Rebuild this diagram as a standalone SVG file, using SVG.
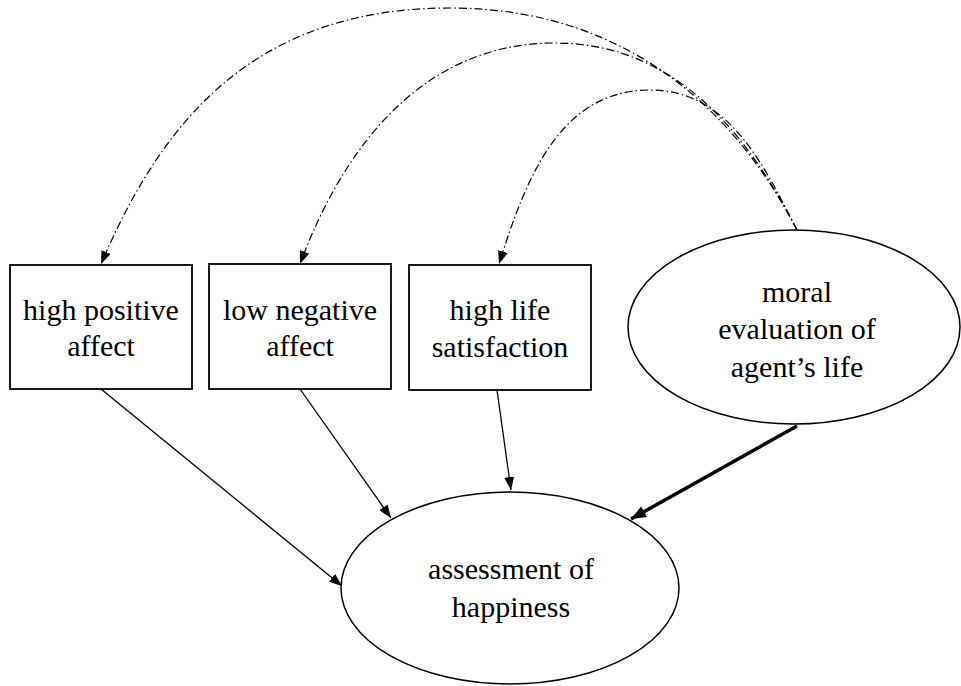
<svg xmlns="http://www.w3.org/2000/svg" width="961" height="686" viewBox="0 0 961 686">
<style>
.box{fill:#fff;stroke:#000;stroke-width:1.8}
.ell{fill:#fff;stroke:#000;stroke-width:1.5}
.lbl{font-family:"Liberation Serif","Times New Roman",serif;font-size:30px;fill:#000;text-anchor:middle}
.arr{fill:none;stroke:#000;stroke-width:1.3;marker-end:url(#ah)}
.thick{fill:none;stroke:#000;stroke-width:3.5;marker-end:url(#ahb)}
.dd{fill:none;stroke:#000;stroke-width:1.2;stroke-dasharray:8 3 1.5 3;marker-end:url(#ah)}
</style>
<defs>
<marker id="ah" markerUnits="userSpaceOnUse" markerWidth="14" markerHeight="10" refX="13" refY="5" orient="auto">
<path d="M0,0 L13,5 L0,10 Z" fill="#000"/>
</marker>
<marker id="ahb" markerUnits="userSpaceOnUse" markerWidth="16" markerHeight="12" refX="15" refY="6" orient="auto">
<path d="M0,0 L15,6 L0,12 Z" fill="#000"/>
</marker>
</defs>
<g id="connectors">
<path class="dd" d="M797,230 C737,114 630,8 450,8 C250,8 160,126 101,264"/>
<path class="dd" d="M797,230 C751,141 680,43 555,43 C420,43 342,151 300,264"/>
<path class="dd" d="M797,230 C765,168 730,90 650,90 C560,90 526,178 499,264"/>
<path class="arr" d="M101,389 L342,586"/>
<path class="arr" d="M300,389 L391,518"/>
<path class="arr" d="M497,390 L511,490"/>
<path class="thick" d="M797,426 L631,519"/>
</g>
<g id="high-positive-affect">
<rect class="box" x="10" y="265" width="182" height="124"/>
<text class="lbl" x="101" y="320">high positive</text>
<text class="lbl" x="101" y="356">affect</text>
</g>
<g id="low-negative-affect">
<rect class="box" x="209" y="264" width="182" height="125"/>
<text class="lbl" x="300" y="320">low negative</text>
<text class="lbl" x="300" y="356">affect</text>
</g>
<g id="high-life-satisfaction">
<rect class="box" x="409" y="265" width="182" height="125"/>
<text class="lbl" x="500" y="320">high life</text>
<text class="lbl" x="500" y="357">satisfaction</text>
</g>
<g id="moral-evaluation">
<ellipse class="ell" cx="794" cy="327" rx="166" ry="97"/>
<text class="lbl" x="797" y="302">moral</text>
<text class="lbl" x="797" y="339">evaluation of</text>
<text class="lbl" x="797" y="377">agent’s life</text>
</g>
<g id="assessment-of-happiness">
<ellipse class="ell" cx="510" cy="588" rx="169" ry="96"/>
<text class="lbl" x="511" y="579">assessment of</text>
<text class="lbl" x="511" y="617">happiness</text>
</g>
</svg>
